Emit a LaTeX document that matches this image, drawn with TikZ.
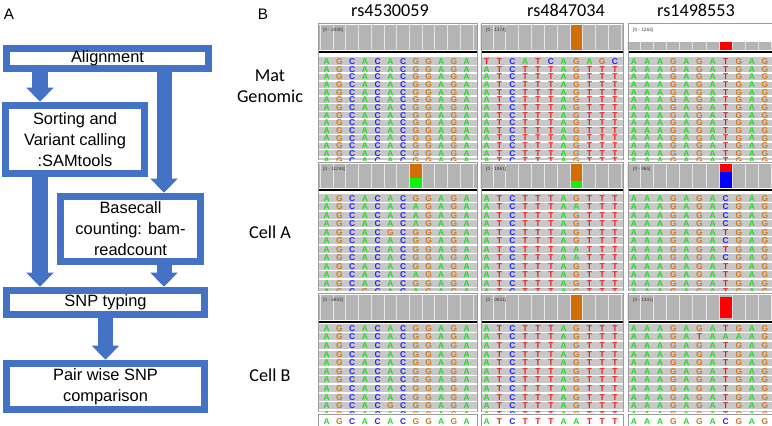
\documentclass[tikz,border=0pt]{standalone}
\usepackage{fontspec}
\setmainfont{Liberation Sans}
\newfontfamily\califont{Carlito}
\usetikzlibrary{arrows.meta,calc}
\definecolor{flowblue}{HTML}{4472C4}
\definecolor{covgrey}{HTML}{B4B4B4}
\definecolor{readgrey}{HTML}{C8C8C8}
\definecolor{edgegrey}{HTML}{9C9C9C}
\definecolor{baseA}{HTML}{1EDC1E}
\definecolor{baseC}{HTML}{2323FF}
\definecolor{baseG}{HTML}{D2781E}
\definecolor{baseT}{HTML}{F01818}
\definecolor{barorange}{HTML}{D06E08}
\definecolor{bargreen}{HTML}{12F012}
\definecolor{barred}{HTML}{FF0000}
\definecolor{barblue}{HTML}{0000FF}
\newcommand{\flowtext}{\fontsize{14}{17.9}\selectfont}
\newcommand{\rowtext}{\califont\fontsize{15.5}{18.4}\selectfont}
\newcommand{\basefont}{\fontsize{7.2}{7.2}\selectfont\bfseries}
\newcommand{\covfont}{\fontsize{4}{4}\selectfont}
\tikzset{
  stepbox/.style={draw=flowblue, line width=6.5pt, fill=white, align=center, inner sep=0pt, font=\flowtext},
  barrow/.style={draw=flowblue, line width=0.45cm, -{Triangle[width=0.82cm,length=0.42cm,line width=0pt]}},
  panlbl/.style={font=\fontsize{13}{13}\selectfont, inner sep=0pt},
  snptitle/.style={font=\rowtext, anchor=base, inner sep=0pt},
  samplbl/.style={font=\rowtext, align=center, anchor=base, inner sep=0pt},
  % ---- IGV tracks ----
  covgrid/.style={draw=white!80!gray, line width=0.8pt},
  covlbl/.style={font=\covfont, text=black!80, anchor=west, inner sep=0pt},
  trackline/.style={draw=black, line width=1.7pt},
  readgap/.style={draw=white, line width=1.2pt},
  edgeline/.style={draw=edgegrey, line width=0.8pt},
  nt/.style={font=\basefont, inner sep=0pt},
  ntA/.style={nt, text=baseA},
  ntC/.style={nt, text=baseC},
  ntG/.style={nt, text=baseG},
  ntT/.style={nt, text=baseT},
}
% columns and rows of the IGV grid (pixel units)
\def\colA{\def\xl{318}\def\xr{477}\def\xo{326.7}\def\stp{12.73}\def\nb{12}}
\def\colB{\def\xl{481}\def\xr{623}\def\xo{486.7}\def\stp{12.83}\def\nb{11}}
\def\colC{\def\xl{628}\def\xr{772}\def\xo{634}\def\stp{13.1}\def\nb{11}}
\def\rowA{\def\yt{23}\def\yc{50}\def\yb{160.5}\def\ly{61.7}\def\lst{7.64}}
\def\rowB{\def\yt{162}\def\yc{188}\def\yb{291}\def\ly{198.3}\def\lst{8.5}}
\def\rowC{\def\yt{293}\def\yc{320}\def\yb{412}\def\ly{328.3}\def\lst{8.6}}
\newcount\basei
\def\baserow#1#2{\def\currow{#1}\basei=0 \baseloop#2\relax}
\def\baseloop#1{\ifx#1\relax\else
  \node[nt#1] (\pn-\currow-\the\basei) at ({\xo+\the\basei*\stp},{\ly+\currow*\lst}) {#1};%
  \advance\basei by 1 \expandafter\baseloop\fi}
\newcommand{\igvpanel}[4]{%
  \def\pn{#1}
  \fill[covgrey] (\xl,#3) rectangle (\xr,\yc);
  \foreach \k in {0,...,\nb} \draw[covgrid] ({\xo+(\k-0.5)*\stp},#3) -- ({\xo+(\k-0.5)*\stp},\yc);
  \node[covlbl] (#1-cov) at ({\xl+5},{\yt+7}) {#2};
  \draw[trackline] (\xl,{\yc+1.6}) -- (\xr,{\yc+1.6});
  \begin{scope}
    \clip (\xl,{\ly-4.6}) rectangle (\xr,\yb);
    \fill[readgrey] (\xl,{\ly-4.6}) rectangle (\xr,\yb);
    \foreach \k in {0,...,14} \draw[readgap] (\xl,{\ly+(\k+0.5)*\lst}) -- (\xr,{\ly+(\k+0.5)*\lst});
    \foreach \s [count=\ri from 0] in {#4} {\edef\tmp{\noexpand\baserow{\ri}{\s}}\tmp}
  \end{scope}
  \draw[edgeline] (\xl,\yb) -- (\xl,\yt) -- (\xr,\yt) -- (\xr,\yb);
}
\newcommand{\covbar}[3]{\fill[#1] ({\xo+6.5*\stp+0.6},#2) rectangle ({\xo+7.5*\stp-0.6},#3);}
\newcommand{\refrow}[2]{%
  \def\pn{#1}\def\ly{421.5}\def\lst{0}
  \draw[edgeline] (\xl,414) -- (\xr,414);
  \draw[edgeline] (\xl,414) -- (\xl,426) (\xr,414) -- (\xr,426);
  \baserow{0}{#2}}

\begin{document}
\begin{tikzpicture}[x=0.03cm, y=-0.03cm]
\useasboundingbox (0,0) rectangle (772,426);
% A: pipeline
\node[panlbl] (labA) at (9,14) {A};
\node[stepbox, minimum width=6.06cm, minimum height=0.6cm] (align) at (107.5,58.5) {Alignment};
\node[stepbox, minimum width=4.17cm, minimum height=2.04cm] (sort) at (75,139.5)
   {Sorting and\\Variant calling\\:SAMtools};
\node[stepbox, minimum width=4.2cm, minimum height=1.95cm] (basec) at (130.5,229)
   {Basecall\\counting: bam-\\readcount};
\node[stepbox, minimum width=5.94cm, minimum height=0.72cm] (snp) at (105.5,302.5) {SNP typing};
\node[stepbox, minimum width=5.94cm, minimum height=1.38cm] (pair) at (105.5,386.5)
   {Pair wise SNP\\comparison};
\coordinate (lftx) at (40,0);
\coordinate (rgtx) at (164,0);
\draw[barrow] (align.south -| lftx) -- (sort.north -| lftx);
\draw[barrow] (align.south -| rgtx) -- (basec.north -| rgtx);
\draw[barrow] (sort.south -| lftx) -- (snp.north -| lftx);
\draw[barrow] (basec.south -| rgtx) -- (snp.north -| rgtx);
\draw[barrow] (snp.south) -- (pair.north);
% B: IGV views
\node[panlbl] (labB) at (263,14) {B};
\node[snptitle] (snp1) at (390,17) {rs4530059};
\node[snptitle] (snp2) at (566,17) {rs4847034};
\node[snptitle] (snp3) at (696,17) {rs1498553};
\node[samplbl] (mat) at (270,102.7) {Mat\\Genomic};
\node[samplbl] (cella) at (270,238.5) {Cell A};
\node[samplbl] (cellb) at (270,381.7) {Cell B};
% row 1: Mat Genomic
\colA\rowA
\igvpanel{p11}{[0 - 2408]}{25}{AGCACACGGAGA,AGCACACGGAGA,AGCACACGGAGA,AGCACACGGAGA,AGCACACGGAGA,
  AGCACACGGAGA,AGCACACGGAGA,AGCACACGGAGA,AGCACACGGAGA,AGCACACGGAGA,AGCACACGGAGA,AGCACACGGAGA,
  AGCACACGGAGA,AGCACACGGAGA}
\colB\rowA
\igvpanel{p12}{[0 - 1374]}{25}{TTCATCAGAGC,ATCTTTAGTTT,ATCTTTAGTTT,ATCTTTAGTTT,ATCTTTAGTTT,
  ATCTTTAGTTT,ATCTTTAGTTT,ATCTTTAGTTT,ATCTTTAGTTT,ATCTTTAGTTT,ATCTTTAGTTT,ATCTTTAGTTT,
  ATCTTTAGTTT,ATCTTTAGTTT}
\covbar{barorange}{25}{50}
\colC\rowA
\igvpanel{p13}{[0 - 1263]}{42}{AAAGAGATGAG,AAAGAGATGAG,AAAGAGATGAG,AAAGAGATGAG,AAAGAGATGAG,
  AAAGAGATGAG,AAAGAGATGAG,AAAGAGATGAG,AAAGAGATGAG,AAAGAGATGAG,AAAGAGATGAG,AAAGAGATGAG,
  AAAGAGATGAG,AAAGAGATGAG}
\covbar{barred}{42}{50}
% row 2: Cell A
\colA\rowB
\igvpanel{p21}{[0 - 11244]}{164}{AGCACACGGAGA,AGCACACAGAGA,AGCACACAGAGA,AGCACACAGAGA,AGCACGCGGAGA,
  AGCACACGGAGA,AGCACACGGAGA,AGCACACGGAGA,AGCACACGGAGA,AGCACACAGAGA,AGCACACGGAGA,AGCGCACAGAGA}
\covbar{barorange}{164}{178}
\covbar{bargreen}{178}{188}
\colB\rowB
\igvpanel{p22}{[0 - 1961]}{164}{ATCTTTAGTTT,ATCTTTAATTT,ATCTTTAGTTT,ATCTTTAGTTT,ATCTTTAGTTT,
  ATCTTTAGTTT,ATCTTTAATTT,ATCTTTAATTT,ATCTTTAGTTT,ATCTTTAGTTT,ATCTTTAGTTT,ATCTTTAGTTT}
\covbar{barorange}{164}{181.5}
\covbar{bargreen}{181.5}{188}
\colC\rowB
\igvpanel{p23}{[0 - 965]}{164}{AAAGAGACGAG,AAAGAGACGAG,AAAGAGACGAG,AAAGAGACGAG,AAAGAGATGAG,
  AAAGAGACGAG,AAAGAGATGAG,AAAGAGACGAG,AAAGAGATGAG,AAAGAGATGAG,AAAGAGATGAG,AAAGAGATGAG}
\covbar{barred}{164}{172}
\covbar{barblue}{172}{188}
% row 3: Cell B
\colA\rowC
\igvpanel{p31}{[0 - 5953]}{295}{AGCACACGGAGA,AGCACACGGAGA,AGCACACGGAGA,AGCACACGGAGA,AGCACACGGAGA,
  AGCACACGGAGA,AGCACACGGAGA,AGCACACGGAGA,AGCACACGGAGA,AGCACGCGGAGA,AGCACACGGAGA}
\refrow{r1}{AGCACACGGAGA}
\colB\rowC
\igvpanel{p32}{[0 - 3651]}{295}{ATCTTTAGTTT,ATCTTTAGTTT,ATCTTTAGTTT,ATCTTTAGTTT,ATCTTTAGTTT,
  ATCTTTAGTTT,ATCTTTAGTTT,ATCTTTAGTTT,ATCTTTAGTTT,ATCTTTAGTTT,ATCTTTAGTTT}
\covbar{barorange}{295}{320}
\refrow{r2}{ATCTTTAATTT}
\colC\rowC
\igvpanel{p33}{[0 - 1341]}{295}{AAAGAGATGAG,AAAGATAAAAG,AAAGAGATGAG,AAAGAGATGAG,AAAGAGATGAG,
  AAAGAGATGAG,AAAGAGATGAG,AAAGAGATGAG,AAAGAGATGAG,AAAGAGATGAG,AAAGAGATGAG}
\covbar{barred}{297}{318}
\refrow{r3}{AAAGAGACGAG}
\end{tikzpicture}
\end{document}
